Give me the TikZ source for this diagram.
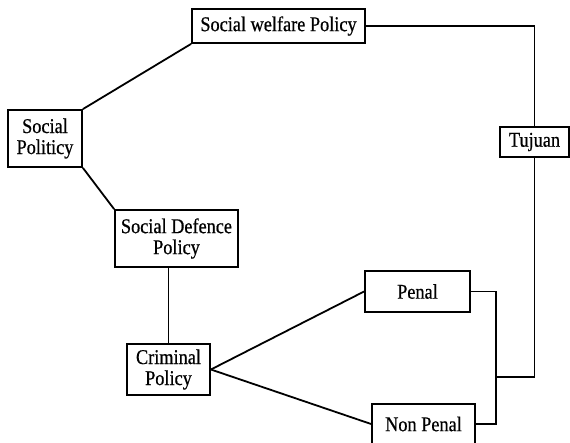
\documentclass[tikz,border=0pt]{standalone}
\usepackage{fontspec}
\setmainfont{Liberation Serif}[FakeStretch=0.87,FakeBold=0.6]
\usetikzlibrary{positioning}

\begin{document}
\begin{tikzpicture}[x=1pt,y=-1pt,line width=1.8pt,
                    box/.style={draw,rectangle,inner sep=0pt,align=center,
                                font=\fontsize{21}{21}\selectfont}]
  \useasboundingbox (0,0) rectangle (570,443);

  \node[box,minimum width=173pt,minimum height=34pt] (welfare)  at (278.5,26)  {Social welfare Policy};
  \node[box,minimum width=74pt,minimum height=57pt]  (politicy) at (45,138.5)  {Social\\Politicy};
  \node[box,minimum width=123pt,minimum height=57pt] (defence)  at (176.5,238.5) {Social Defence\\Policy};
  \node[box,minimum width=83pt,minimum height=51pt]  (criminal) at (168.5,369.5) {Criminal\\Policy};
  \node[box,minimum width=105pt,minimum height=41pt] (penal)    at (417.5,291.5) {Penal};
  \node[box,minimum width=103pt,minimum height=40pt] (nonpenal) at (423.5,424) {Non Penal};
  \node[box,minimum width=69pt,minimum height=30pt]  (tujuan)   at (534.5,142) {Tujuan};
  \coordinate (join) at (496,377);

  \path (politicy.north east) edge (welfare.south west)
        (politicy.south east) edge (defence.north west)
        (criminal.north)      edge (criminal.north |- defence.south)
        (criminal.east)       edge (penal.west)
                              edge (nonpenal.west);

  \draw (welfare.east) -| (tujuan.north);
  \draw (penal.east) -| (join) |- (nonpenal.east);
  \draw (join) -| (tujuan.south);
\end{tikzpicture}
\end{document}
